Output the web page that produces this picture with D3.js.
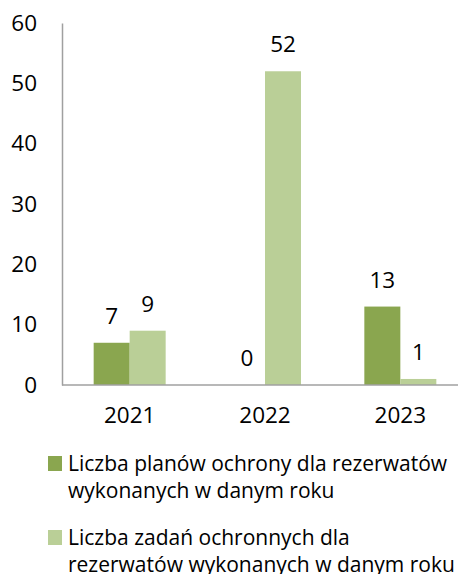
<!DOCTYPE html>
<html>
<head>
<meta charset="utf-8">
<script src="https://cdn.jsdelivr.net/npm/d3@7"></script>
<style>
  html, body { margin: 0; padding: 0; background: #fff; }
  svg { display: block; }
  text { font-family: "Open Sans", "Noto Sans", sans-serif; fill: #000; }
</style>
</head>
<body>
<svg id="chart" width="459" height="574"></svg>
<script>
const categories = ["2021", "2022", "2023"];
const seriesNames = [
  ["Liczba planów ochrony dla rezerwatów", "wykonanych w danym roku"],
  ["Liczba zadań ochronnych dla", "rezerwatów wykonanych w danym roku"]
];
const plansValues = [7, 0, 13];
const tasksValues = [9, 52, 1];
const yTicks = [0, 10, 20, 30, 40, 50, 60];
const colors = ["#8aa64f", "#bacf97"];

const svg = d3.select("#chart");
const numSize = 22.5;
const legendSize = 21;

const x0 = d3.scaleBand().domain(categories).range([62, 468])
  .paddingInner(0.468).paddingOuter(0.234);
const x1 = d3.scaleBand().domain([0, 1]).range([0, x0.bandwidth()]);
const y = d3.scaleLinear().domain([0, 60]).range([385, 23]);

const series = [plansValues, tasksValues];

// Y axis
const yAxis = d3.axisLeft(y).tickValues(yTicks).tickSize(0).tickPadding(25);
const gy = svg.append("g").attr("transform", "translate(62,0)").call(yAxis);
gy.select(".domain").attr("stroke", "#a0a0a0").attr("stroke-width", 1.5);
gy.selectAll("text").style("font-size", numSize + "px").style("font-family", '"Open Sans", sans-serif').attr("fill", "#000");

// Bars
categories.forEach((c, i) => {
  series.forEach((vals, s) => {
    const v = vals[i];
    const bx = x0(c) + x1(s);
    const bw = x1.bandwidth();
    if (v > 0) {
      svg.append("rect")
        .attr("x", bx).attr("y", y(v))
        .attr("width", bw).attr("height", y(0) - y(v))
        .attr("fill", colors[s]);
    }
    svg.append("text")
      .attr("x", bx + bw / 2).attr("y", y(v) - 19)
      .attr("text-anchor", "middle")
      .style("font-size", numSize + "px")
      .text(v);
  });
});

// X axis
const xAxis = d3.axisBottom(x0).tickSize(0).tickPadding(22);
const gx = svg.append("g").attr("transform", "translate(0,385)").call(xAxis);
gx.select(".domain").attr("stroke", "#a0a0a0").attr("stroke-width", 1.5).attr("d", "M62,0H458");
gx.selectAll("text").style("font-size", numSize + "px").style("font-family", '"Open Sans", sans-serif').attr("fill", "#000");

// Legend
const legendTop = [456, 530];
seriesNames.forEach((lines, s) => {
  const g = svg.append("g");
  g.append("rect").attr("x", 48).attr("y", legendTop[s]).attr("width", 14).attr("height", 15).attr("fill", colors[s]);
  lines.forEach((ln, k) => {
    g.append("text").attr("x", 68).attr("y", legendTop[s] + 15 + k * 27)
      .style("font-size", legendSize + "px").text(ln);
  });
});
</script>
</body>
</html>
